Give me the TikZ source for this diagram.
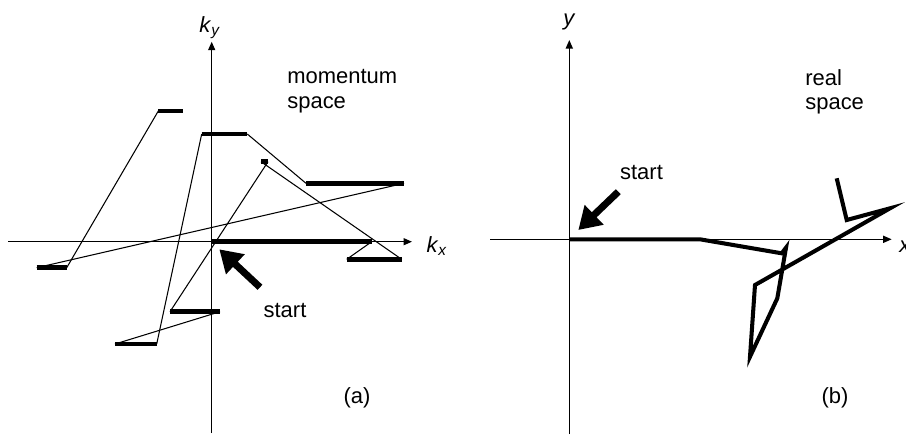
\documentclass[tikz,border=0pt]{standalone}
\usepackage{fontspec}
\setmainfont{Liberation Sans}
\usepackage{tikz}
\usetikzlibrary{arrows.meta}
\tikzset{
  axisLine/.style={line width=0.8pt, -{Triangle[length=0.17cm,width=0.14cm]}},
  flightSeg/.style={line width=2.6pt},
  hopLine/.style={line width=0.6pt},
  pathLine/.style={line width=2.3pt, line join=miter},
  startArrow/.style={line width=0.14cm, -{Triangle[length=0.44cm,width=0.52cm]}},
  panelText/.style={font=\fontsize{12.5pt}{14pt}\selectfont, inner sep=0pt}
}

\begin{document}
\begin{tikzpicture}[x=0.02cm,y=-0.02cm]
  \useasboundingbox (0,0) rectangle (906,434);
  % (a) momentum space
  \draw[axisLine] (8,241.7) -- (412,241.7);
  \draw[axisLine] (211.7,433) -- (211.7,41.7);
  \node[panelText] (kyLabel) at (210,28) {\textit{k}\textsubscript{\textit{y}}};
  \node[panelText] (kxLabel) at (437,246) {\textit{k}\textsubscript{\textit{x}}};
  \node[panelText, anchor=north west, align=left] (momLabel) at (287,69) {momentum\\space};
  \foreach \n/\x/\y in {0/211.7/241.7, 1/371.7/241.7, 2/346.7/259.3, 3/401.7/259.3,
                        4/261/161.7, 5/268/161.7, 6/170/311.7, 7/220/311.7,
                        8/115/344, 9/156.7/344, 10/201.7/134, 11/247.3/134,
                        12/306/183.3, 13/404/183.3, 14/36.7/267.7, 15/66.7/267.7,
                        16/158.3/111, 17/183.3/111}
    \coordinate (k\n) at (\x,\y);
  \foreach \i in {0,2,...,16} {
    \pgfmathtruncatemacro\j{\i+1}
    \draw[flightSeg] (k\i) -- (k\j);
  }
  \foreach \i in {1,3,...,15} {
    \pgfmathtruncatemacro\j{\i+1}
    \draw[hopLine] (k\i) -- (k\j);
  }
  \coordinate (aTail) at (260,287.3);
  \coordinate (aTip) at (219.3,249.3);
  \draw[startArrow] (aTail) -- (aTip);
  \node[panelText] (aStart) at (285,310) {start};
  \node[panelText] (aTag) at (357,398) {(a)};
  % (b) real space
  \draw[axisLine] (490,239.3) -- (891.7,239.3);
  \draw[axisLine] (569.3,434) -- (569.3,40);
  \node[panelText] (yLabel) at (569.3,22) {\textit{y}};
  \node[panelText, anchor=west] (xLabel) at (899,247) {\textit{x}};
  \node[panelText, anchor=north west, align=left] (realLabel) at (805,69) {real\\space};
  \draw[pathLine] (569.3,239.3) -- (700,239.3) -- (781.7,253.3) -- (786,247.7)
    -- (777.3,298.3) -- (750,356.7) -- (755,285) -- (890,208.3)
    -- (846.7,220) -- (836.7,178.3);
  \coordinate (bTail) at (618.3,191.7);
  \coordinate (bTip) at (578.3,230);
  \draw[startArrow] (bTail) -- (bTip);
  \node[panelText] (bStart) at (641.5,172) {start};
  \node[panelText] (bTag) at (835,398) {(b)};
\end{tikzpicture}
\end{document}
